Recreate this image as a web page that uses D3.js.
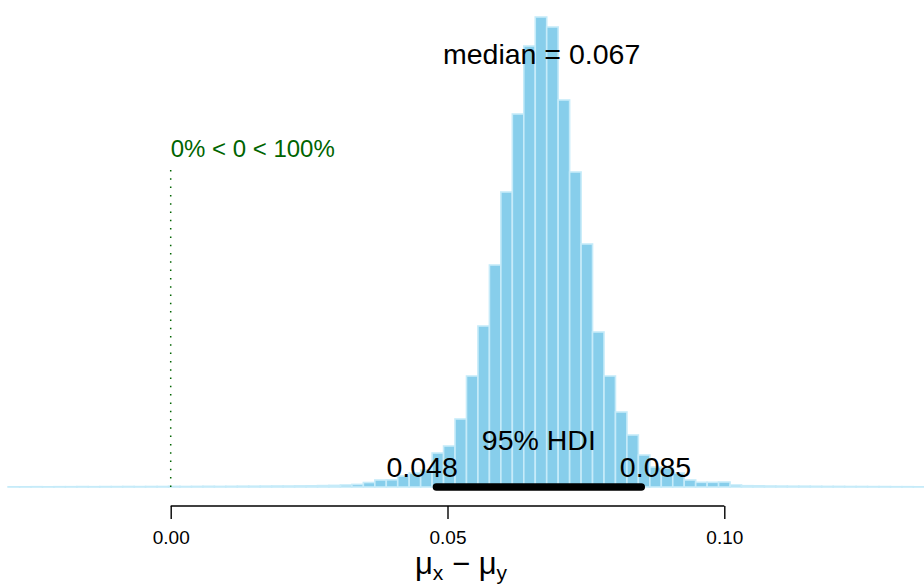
<!DOCTYPE html>
<html><head><meta charset="utf-8">
<script src="https://cdn.jsdelivr.net/npm/d3@7"></script>
<style>
html,body{margin:0;padding:0;background:#fff;}
svg{display:block;font-family:"Liberation Sans",Arial,Helvetica,sans-serif;}
</style></head>
<body>
<svg id="chart" width="924" height="586"></svg>
<script>
// ---- data ----
const binStart = -0.02937;      // first break (sample minimum)
const binWidth = 0.00207;       // break spacing
const density = [
  0.02,0.02,0.03,0.02,0.03,0.03,0.04,0.03,0.04,0.04,0.05,0.04,0.05,0.05,0.06,
  0.05,0.06,0.07,0.06,0.07,0.08,0.08,0.09,0.10,0.10,0.11,0.12,0.14,0.16,
  0.20,0.26,0.45,0.70,0.72,1.1,1.4,1.7,3.4,4.1,6.8,11.1,16.1,22.2,29.5,
  37.3,44.1,47.0,46.0,38.7,31.5,24.3,15.5,11.1,7.5,5.2,3.2,2.0,1.9,1.4,
  0.70,0.47,0.47,0.50,0.20,0.13,0.12,
  0.10,0.09,0.08,0.08,0.07,0.06,0.06,0.05,0.05,0.04,0.04,0.03,0.03,0.02
];
const tickValues = [0, 0.05, 0.10];
const tickLabels = ["0.00", "0.05", "0.10"];
const medianValue = 0.067;
const hdi = [0.048, 0.085];
const hdiLabels = ["0.048", "0.085"];
const credMassLabel = "95% HDI";
const compValue = 0;
const compLabel = "0% < 0 < 100%";

// ---- drawing ----
const svg = d3.select("#chart");
const x = d3.scaleLinear().domain([0, 0.1]).range([170.7, 724.3]);
const y = d3.scaleLinear().domain([0, 48.7]).range([487, 0]);

const bins = density.map((d, i) => ({x0: binStart + i * binWidth, x1: binStart + (i + 1) * binWidth, d}));

svg.append("g").selectAll("rect").data(bins).join("rect")
  .attr("x", b => x(b.x0))
  .attr("width", b => x(b.x1) - x(b.x0))
  .attr("y", b => y(b.d))
  .attr("height", b => Math.max(0.01, y(0) - y(b.d)))
  .attr("fill", "#87CEEB")
  .attr("stroke", "#c6ebf9")
  .attr("stroke-width", 1.6);

// comparison value line
svg.append("line")
  .attr("x1", x(compValue)).attr("x2", x(compValue))
  .attr("y1", 170).attr("y2", y(0))
  .attr("stroke", "#006400").attr("stroke-width", 1.5)
  .attr("stroke-dasharray", "1.5,6.8");
svg.append("text")
  .attr("x", x(compValue)).attr("y", 156.5)
  .attr("fill", "#006400").attr("font-size", "24px")
  .text(compLabel);

// median label
svg.append("text")
  .attr("x", x(medianValue)).attr("y", 63.5)
  .attr("text-anchor", "middle").attr("font-size", "28.5px")
  .text("median = " + medianValue.toFixed(3));

// HDI bar
svg.append("line")
  .attr("x1", x(hdi[0])).attr("x2", x(hdi[1]))
  .attr("y1", y(0)).attr("y2", y(0))
  .attr("stroke", "#000").attr("stroke-width", 7.5)
  .attr("stroke-linecap", "round");
svg.append("text")
  .attr("x", x((hdi[0] + hdi[1]) / 2)).attr("y", 450)
  .attr("text-anchor", "middle").attr("font-size", "28.5px")
  .text(credMassLabel);
hdiLabels.forEach((lab, i) => {
  const t = svg.append("text")
    .attr("y", 476.5).attr("font-size", "28.5px").text(lab);
  const w = t.node().getComputedTextLength();
  const frac = i === 0 ? 0.7 : 0.3;
  t.attr("x", x(hdi[i]) - frac * w);
});

// axis
const axis = d3.axisBottom(x)
  .tickValues(tickValues)
  .tickFormat((d, i) => tickLabels[i])
  .tickSize(13).tickSizeOuter(0);
const gAx = svg.append("g").attr("transform", "translate(0,506)").call(axis)
  .attr("font-size", null).attr("font-family", null);
gAx.select(".domain").attr("stroke", "#000").attr("stroke-width", 1.4)
  .attr("d", `M${x(0)},0H${x(0.1)}`);
gAx.selectAll(".tick line").attr("stroke", "#000").attr("stroke-width", 1.4);
gAx.selectAll(".tick text")
  .style("font-family", "'Liberation Sans', Arial, sans-serif")
  .style("font-size", "19px").attr("fill", "#000")
  .attr("y", 38).attr("dy", 0);

// axis title  μx − μy
const title = svg.append("text")
  .attr("x", 461).attr("y", 574)
  .attr("text-anchor", "middle").attr("font-size", "31px");
title.append("tspan").text("μ");
title.append("tspan").attr("font-size", "21px").attr("dy", 6).text("x");
title.append("tspan").attr("dy", -6).text(" − μ");
title.append("tspan").attr("font-size", "21px").attr("dy", 6).text("y");
</script>
</body></html>
